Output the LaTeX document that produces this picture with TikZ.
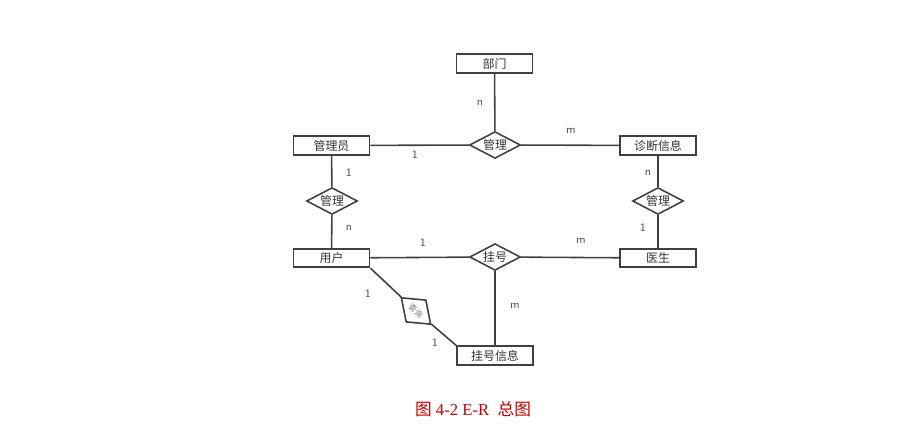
\documentclass[tikz,border=0pt]{standalone}
\usepackage{fontspec}
\setmainfont{Liberation Serif}
\newfontfamily\cjk{Noto Sans CJK SC}
\usetikzlibrary{shapes.geometric}
\definecolor{erline}{RGB}{64,64,64}
\definecolor{erlabel}{RGB}{85,85,85}
\definecolor{capred}{RGB}{192,0,0}

\begin{document}
\begin{tikzpicture}[x=0.02cm,y=-0.02cm,
  ent/.style={draw=erline,line width=1pt,minimum width=1.52cm,minimum height=0.37cm,inner sep=0pt,font=\cjk\fontsize{6.8}{7}\selectfont,text=black!80},
  rel/.style={draw=erline,line width=0.9pt,diamond,aspect=1.9,inner sep=0.6pt,minimum width=0.92cm,minimum height=0.5cm,font=\cjk\fontsize{6.8}{7}\selectfont,text=black!80},
  lnk/.style={draw=erline,line width=0.9pt},
  card/.style={font=\sffamily\fontsize{6.5}{7}\selectfont,text=erlabel}]
\useasboundingbox (0,0) rectangle (902,428);
% entities
\node[ent] (bumen) at (494.5,63.5) {部门};
\node[ent] (guanliyuan) at (331.5,145.5) {管理员};
\node[ent] (zhenduan) at (658,145.5) {诊断信息};
\node[ent] (yonghu) at (331.5,258) {用户};
\node[ent] (yisheng) at (658,258) {医生};
\node[ent] (guahaoxx) at (495,355.5) {挂号信息};
% relations
\node[rel] (gltop) at (495,145) {管理};
\node[rel] (glleft) at (332,201) {管理};
\node[rel] (glright) at (658,201) {管理};
\node[rel] (guahao) at (495,257) {挂号};
\node[rel,rotate=-42,aspect=1.3,minimum width=0.8cm,minimum height=0.6cm,font=\cjk\fontsize{4.5}{5}\selectfont,text=black!55] (chaxun) at (416,311) {查询};
% links
\draw[lnk] (bumen) -- (gltop);
\draw[lnk] (guanliyuan) -- (gltop) -- (zhenduan);
\draw[lnk] (guanliyuan) -- (glleft) -- (yonghu);
\draw[lnk] (zhenduan) -- (glright) -- (yisheng);
\draw[lnk] (yonghu) -- (guahao) -- (yisheng);
\draw[lnk] (guahao) -- (guahaoxx);
\draw[lnk] (yonghu.south east) -- (chaxun) -- (guahaoxx.north west);
% cardinalities
\node[card] at (480,103) {n};
\node[card] at (415,155) {1};
\node[card] at (571,131) {m};
\node[card] at (349,173) {1};
\node[card] at (349,228) {n};
\node[card] at (648,173) {n};
\node[card] at (643,228) {1};
\node[card] at (423,243) {1};
\node[card] at (581,241) {m};
\node[card] at (368,294) {1};
\node[card] at (515,306) {m};
\node[card] at (435,343) {1};
% caption
\node[text=capred,font=\fontsize{9.5}{11}\selectfont] (caption) at (473,409) {{\cjk 图} 4-2 E-R\ \ {\cjk 总图}};
\end{tikzpicture}
\end{document}
